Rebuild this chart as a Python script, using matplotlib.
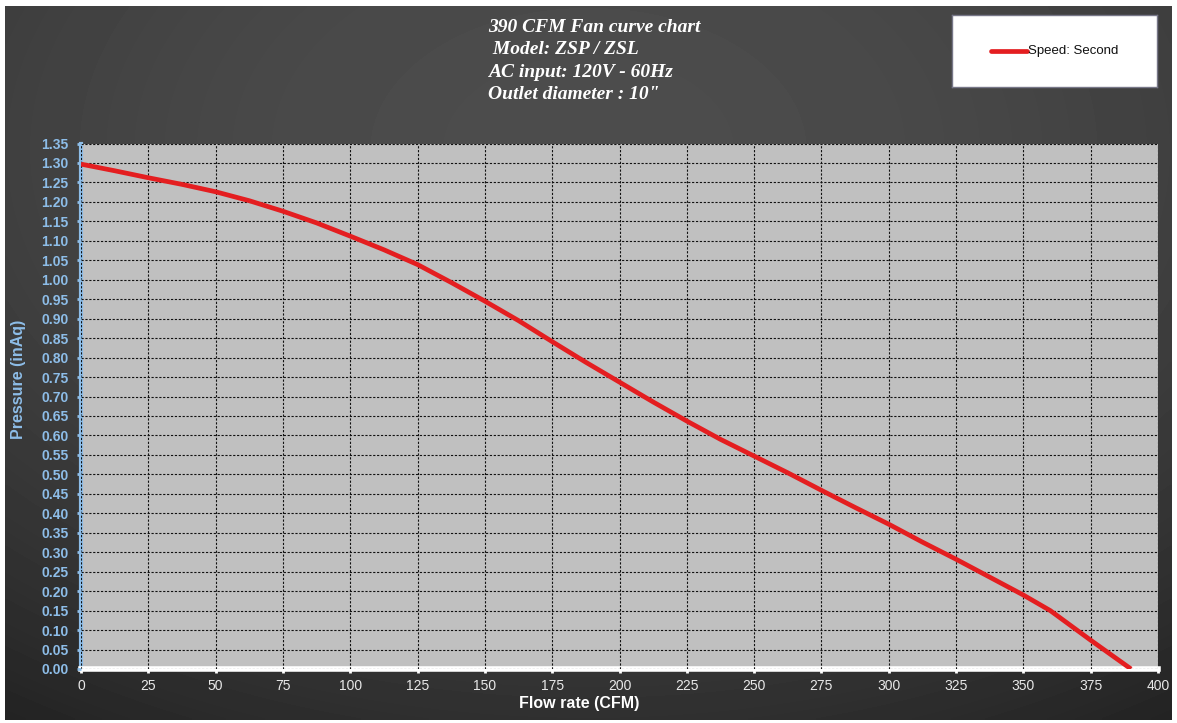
import numpy as np
import matplotlib
matplotlib.use('Agg')
import matplotlib.pyplot as plt

# values
flow_cfm = [0, 12.5, 25, 37.5, 50, 62.5, 75, 87.5, 100, 112.5, 125, 137.5, 150, 162.5,
            175, 187.5, 200, 212.5, 225, 237.5, 250, 262.5, 275, 287.5, 300, 312.5,
            325, 337.5, 350, 360, 375, 390]
pressure_inaq = [1.297, 1.280, 1.262, 1.245, 1.226, 1.203, 1.176, 1.146, 1.112, 1.077,
                 1.039, 0.993, 0.945, 0.895, 0.841, 0.788, 0.737, 0.686, 0.637, 0.590,
                 0.547, 0.504, 0.459, 0.415, 0.372, 0.326, 0.282, 0.236, 0.190, 0.150,
                 0.074, 0.0]
series_name = 'Speed: Second'
title_lines = ['390 CFM Fan curve chart', ' Model: ZSP / ZSL',
               'AC input: 120V - 60Hz', 'Outlet diameter : 10"']
x_ticks = np.arange(0, 401, 25)
y_ticks = np.arange(0, 1.351, 0.05)

W, H = 1177, 723
fig = plt.figure(figsize=(W / 100, H / 100), dpi=100)
fig.patch.set_facecolor('white')

# dark gradient background
bg = fig.add_axes([5 / W, 3 / H, 1167 / W, 714 / H])
yy, xx = np.mgrid[0:1:200j, 0:1:300j]
shade = 0.30 - 0.08 * ((yy - 0.8) ** 2) * 2.2 - 0.05 * (np.abs(xx - 0.5) * 2) ** 2
bg.imshow(shade, cmap='gray', vmin=0, vmax=1, aspect='auto',
          extent=[0, 1, 0, 1], origin='lower', interpolation='bilinear')
bg.axis('off')

ax = fig.add_axes([81 / W, 1 - 669 / H, (1158 - 81) / W, (669 - 143.5) / H])
ax.set_facecolor('#c0c0c0')
ax.plot(flow_cfm, pressure_inaq, color='#e41e20', lw=3.4, solid_capstyle='butt',
        solid_joinstyle='round', zorder=3)

ax.set_xlim(0, 400)
ax.set_ylim(0, 1.35)
ax.set_xticks(x_ticks)
ax.set_yticks(y_ticks)
ax.set_yticklabels([f'{v:.2f}' for v in y_ticks])
ax.grid(True, color='#111111', linestyle=(0, (2, 1.5)), lw=0.8)
ax.set_axisbelow(False)

for s in ['top', 'right']:
    ax.spines[s].set_visible(False)
ax.spines['left'].set_color('#8dbde8')
ax.spines['left'].set_linewidth(3)
ax.spines['bottom'].set_color('white')
ax.spines['bottom'].set_linewidth(4)

ax.tick_params(axis='y', colors='#8dbde8', length=3, width=2, pad=6)
ax.tick_params(axis='x', colors='white', length=3, width=2, pad=4)
for lab in ax.get_yticklabels():
    lab.set_fontfamily('Liberation Sans')
    lab.set_fontweight('bold')
    lab.set_fontsize(10)
    lab.set_color('#8dbde8')
for lab in ax.get_xticklabels():
    lab.set_fontfamily('Liberation Sans')
    lab.set_fontsize(10)
    lab.set_color('#e8e8e8')

ax.set_xlabel('Flow rate (CFM)', color='white', fontsize=11.5, fontweight='bold',
              family='Liberation Sans')
ax.xaxis.set_label_coords(0.463, -0.052)
ax.set_ylabel('Pressure (inAq)', color='#8dbde8', fontsize=11.5, fontweight='bold',
              family='Liberation Sans')
ax.yaxis.set_label_coords(-0.051, 0.552)

# title block
for i, line in enumerate(title_lines):
    fig.text(488 / W, 1 - (27 + i * 22.6) / H, line, color='white', fontsize=14,
             fontweight='bold', fontstyle='italic', family='Liberation Serif',
             ha='left', va='center')

# legend box
lg = fig.add_axes([952 / W, 1 - 87 / H, 205 / W, 72 / H])
lg.set_xlim(0, 205)
lg.set_ylim(72, 0)
lg.set_facecolor('white')
for s in lg.spines.values():
    s.set_color('#777788')
    s.set_linewidth(1)
lg.set_xticks([])
lg.set_yticks([])
lg.plot([39, 75], [36, 36], color='#e41e20', lw=3.4, solid_capstyle='round')
lg.text(76, 36, series_name, fontsize=9.5, family='Liberation Sans', color='#111111',
        va='center', ha='left')

fig.savefig('out.png', dpi=100, facecolor=fig.get_facecolor())
